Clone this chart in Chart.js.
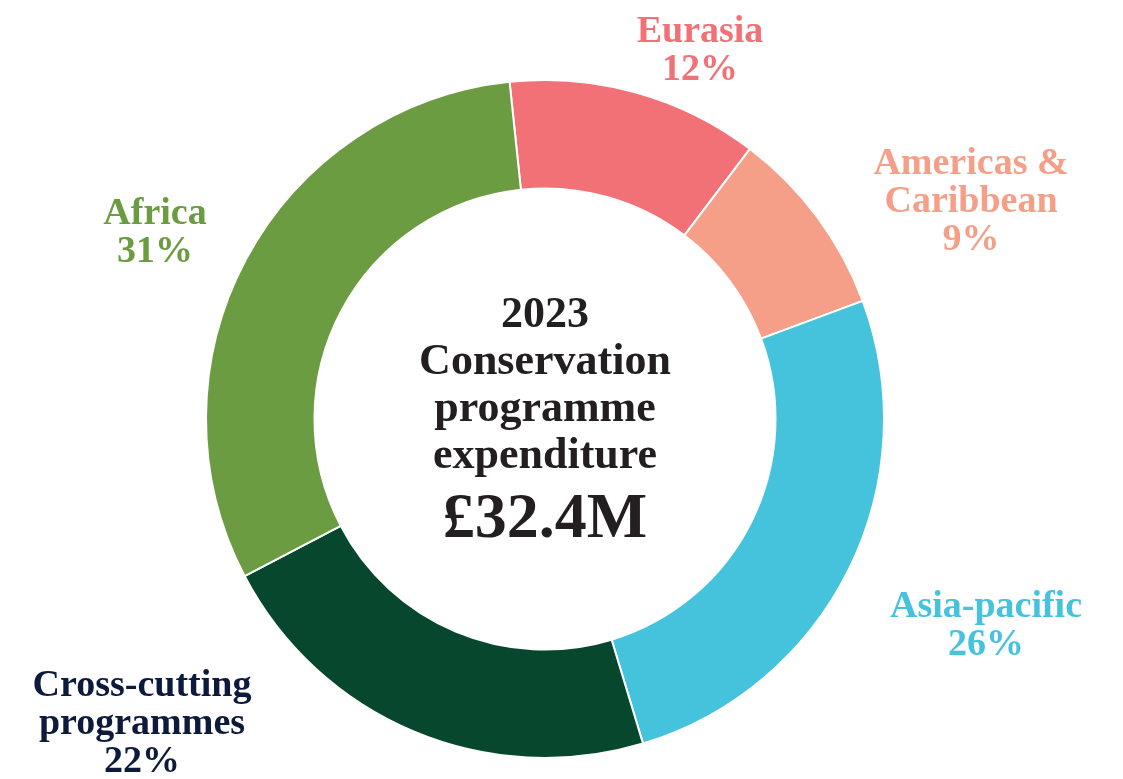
<!DOCTYPE html>
<html>
<head>
<meta charset="utf-8">
<title>2023 Conservation programme expenditure</title>
<script src="https://cdn.jsdelivr.net/npm/chart.js@4/dist/chart.umd.min.js"></script>
<style>
    html, body { margin: 0; padding: 0; background: #ffffff; }
    #contenedor { width: 1123px; height: 779px; }
</style>
</head>
<body>
<div id="contenedor"><canvas id="graficoGasto"></canvas></div>
<script>
const regiones = ["Eurasia", "Americas & Caribbean", "Asia-pacific", "Cross-cutting programmes", "Africa"];
const porcentajes = [12, 9, 26, 22, 31];
// lineas de cada etiqueta (el ultimo renglon es el porcentaje)
const etiquetas = [
    ["Eurasia"],
    ["Americas &", "Caribbean"],
    ["Asia-pacific"],
    ["Cross-cutting", "programmes"],
    ["Africa"]
];
const textoCentro = ["2023", "Conservation", "programme", "expenditure"];
const totalCentro = "£32.4M";

const coloresSector = ["#f27176", "#f69f88", "#45c3dc", "#07472e", "#6c9c41"];
const coloresEtiqueta = ["#f27176", "#f69f88", "#45c3dc", "#0e1a3c", "#6c9c41"];
// desplazamiento de cada etiqueta respecto al centro del anillo
const posEtiquetas = [[155, -377], [426, -245], [441, 198], [-403, 277], [-390, -195]];

const fuente = '"Liberation Serif", "DejaVu Serif", serif';

/*******************************************************************************/
// Textos

const pluginTextos = {
    id: "textos",
    afterDraw(chart) {
        const ctx = chart.ctx;
        const arco = chart.getDatasetMeta(0).data[0];
        const cx = arco.x;
        const cy = arco.y;

        ctx.save();
        ctx.textAlign = "center";
        ctx.textBaseline = "alphabetic";

        // centro
        ctx.fillStyle = "#231f20";
        ctx.font = "bold 44px " + fuente;
        textoCentro.forEach((linea, i) => {
            ctx.fillText(linea, cx, cy - 92 + i * 47);
        });
        ctx.font = "bold 64px " + fuente;
        ctx.fillText(totalCentro, cx, cy + 118);

        // etiquetas de cada region
        ctx.font = "bold 38px " + fuente;
        etiquetas.forEach((lineas, i) => {
            const todas = lineas.concat([porcentajes[i] + "%"]);
            const x = cx + posEtiquetas[i][0];
            const y = cy + posEtiquetas[i][1];
            ctx.fillStyle = coloresEtiqueta[i];
            todas.forEach((linea, j) => {
                ctx.fillText(linea, x, y + j * 38);
            });
        });
        ctx.restore();
    }
};

/*******************************************************************************/
// Grafico

const ctx = document.getElementById("graficoGasto").getContext("2d");
new Chart(ctx, {
    type: "doughnut",
    data: {
        labels: regiones,
        datasets: [{
            data: porcentajes,
            backgroundColor: coloresSector,
            borderColor: "#ffffff",
            borderWidth: 2
        }]
    },
    options: {
        responsive: true,
        maintainAspectRatio: false,
        animation: false,
        rotation: -6,
        cutout: "68%",
        layout: {
            padding: { top: 79, bottom: 20, left: 0, right: 33 }
        },
        plugins: {
            legend: { display: false },
            tooltip: { enabled: false }
        }
    },
    plugins: [pluginTextos]
});
</script>
</body>
</html>
